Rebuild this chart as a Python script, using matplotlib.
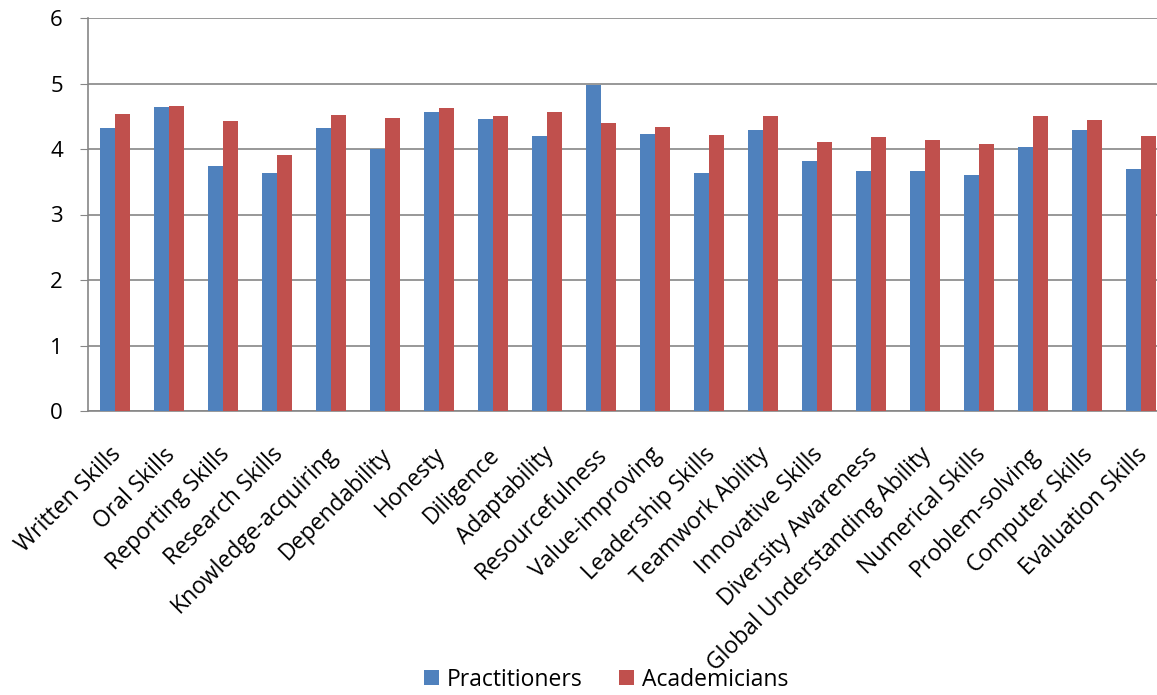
import numpy as np
import matplotlib.pyplot as plt
import matplotlib.transforms as mtransforms

skills = ['Written Skills', 'Oral Skills', 'Reporting Skills', 'Research Skills',
          'Knowledge-acquiring', 'Dependability', 'Honesty', 'Diligence',
          'Adaptability', 'Resourcefulness', 'Value-improving', 'Leadership Skills',
          'Teamwork Ability', 'Innovative Skills', 'Diversity Awareness',
          'Global Understanding Ability', 'Numerical Skills', 'Problem-solving',
          'Computer Skills', 'Evaluation Skills']
practitioners = [4.32, 4.64, 3.74, 3.64, 4.32, 4.00, 4.56, 4.46, 4.20, 4.97,
                 4.23, 3.64, 4.29, 3.82, 3.67, 3.67, 3.61, 4.03, 4.29, 3.70]
academicians = [4.53, 4.66, 4.43, 3.91, 4.52, 4.48, 4.62, 4.51, 4.57, 4.39,
                4.34, 4.21, 4.51, 4.11, 4.19, 4.13, 4.07, 4.51, 4.45, 4.20]

plt.rcParams['font.family'] = ['Open Sans', 'DejaVu Sans']

fig = plt.figure(figsize=(11.57, 6.95), dpi=100)
# plot area runs a little past the right edge of the picture
ax = fig.add_axes([88/1157, 1-411/695, 1080/1157, (411-18)/695])

x = np.arange(len(skills))
w = 0.28
ax.bar(x - w/2, practitioners, w, color='#4F81BD', label='Practitioners', zorder=3)
ax.bar(x + w/2, academicians, w, color='#C0504D', label='Academicians', zorder=3)

ax.set_xlim(-0.5, len(skills) - 0.5)
ax.set_ylim(0, 6)
ax.set_yticks(range(7))
ax.yaxis.grid(True, color='#868686', linewidth=1.2, zorder=0)
for s in ['top', 'right']:
    ax.spines[s].set_visible(False)
for s in ['left', 'bottom']:
    ax.spines[s].set_color('#868686')
    ax.spines[s].set_linewidth(1.2)
ax.tick_params(axis='y', length=6, color='#868686', labelsize=16, pad=12)
ax.tick_params(axis='x', length=0, pad=29)
ax.set_xticks(x)
ax.set_xticklabels(skills, rotation=45, ha='right', va='center',
                   rotation_mode='anchor', fontsize=16.5)
off = mtransforms.ScaledTranslation(3/100, 0, fig.dpi_scale_trans)
for lab in ax.get_xticklabels():
    lab.set_transform(lab.get_transform() + off)

fig.legend(loc='lower center', bbox_to_anchor=(0.524, -0.025), ncol=2, frameon=False,
           fontsize=16.5, handlelength=0.65, handleheight=0.65, handletextpad=0.35,
           columnspacing=1.6)

fig.savefig('out.png', dpi=100)
